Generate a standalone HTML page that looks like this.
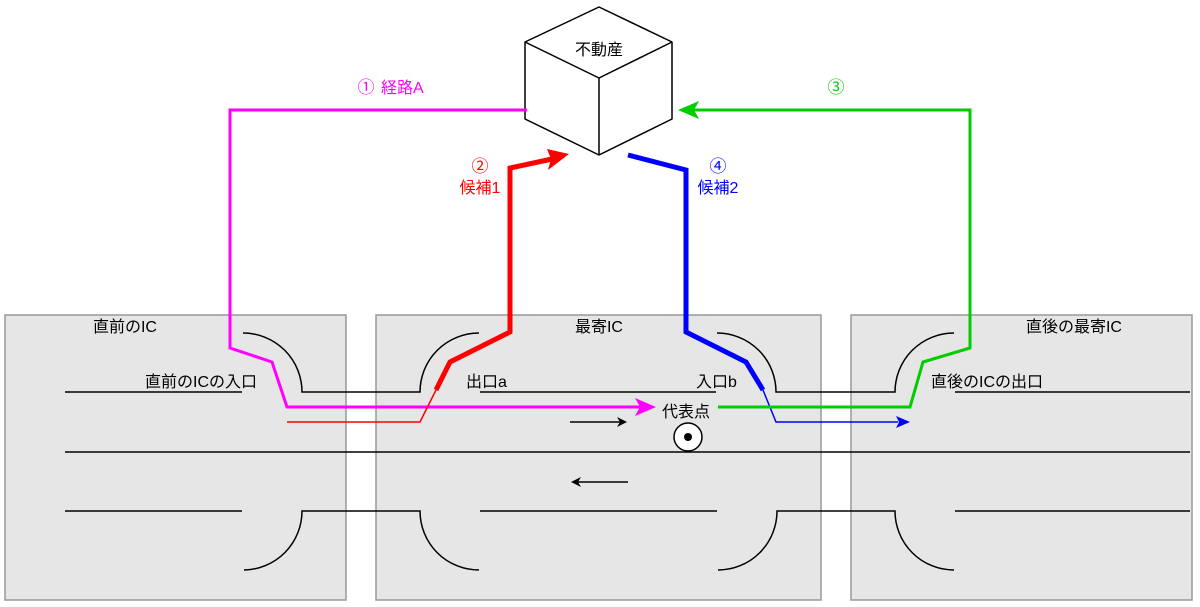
<!DOCTYPE html>
<html><head><meta charset="utf-8"><style>
html,body{margin:0;padding:0;background:#fff;}
svg{display:block;}
text{font-family:"Liberation Sans","Noto Sans CJK JP",sans-serif;font-size:16px;}
.c{font-family:"Noto Sans CJK JP",sans-serif;font-size:17px;}
</style></head><body>
<svg width="1200" height="607" viewBox="0 0 1200 607" xmlns="http://www.w3.org/2000/svg">
<defs>
<marker id="ak" markerWidth="10" markerHeight="10" refX="8" refY="5" orient="auto" markerUnits="userSpaceOnUse"><path d="M0,0 L10,5 L0,10 L3,5 z" fill="#000"/></marker>
</defs>
<g fill="#e6e6e6" stroke="#999" stroke-width="1.5">
<rect x="5" y="315" width="341" height="285"/>
<rect x="376" y="315" width="445" height="285"/>
<rect x="851" y="315" width="341" height="285"/>
</g>
<g fill="none" stroke="#000" stroke-width="1.5">
<path d="M65,392 H242"/>
<path d="M243,333 A59,59 0 0 1 302,392 H420 A59,59 0 0 1 479,333"/>
<path d="M480,392 H716"/>
<path d="M717,333 A59,59 0 0 1 776,392 H895 A59,59 0 0 1 954,333"/>
<path d="M955,392 H1190"/>
<path d="M65,452 H1190"/>
<path d="M65,511 H242"/>
<path d="M244,570 A59,59 0 0 0 302,511 H420 A59,59 0 0 0 479,570"/>
<path d="M480,511 H717"/>
<path d="M718,570 A59,59 0 0 0 777,511 H895 A59,59 0 0 0 954,570"/>
<path d="M955,511 H1190"/>
<path d="M570,422 H625" marker-end="url(#ak)"/>
<path d="M628,482 H573" marker-end="url(#ak)"/>
</g>
<circle cx="688" cy="437" r="14" fill="#fff" stroke="#000" stroke-width="1.5"/>
<circle cx="688" cy="437" r="4" fill="#000"/>
<g stroke="#000" stroke-width="1.5" fill="#fff" stroke-linejoin="round">
<path d="M599,7 L672,42 L672,119 L599,155 L525,119 L525,42 Z"/>
<path d="M525,42 L599,78 L672,42 M599,78 V155" fill="none"/>
</g>
<text x="599" y="55" text-anchor="middle">不動産</text>
<path d="M527,110 H230 V348 L272,362 L287,407 H640" fill="none" stroke="#ff00ff" stroke-width="3"/>
<path d="M656,407 L635,398 L640,407 L635,416 Z" fill="#ff00ff"/>
<path d="M287,422 H420 L436,390" fill="none" stroke="#ff0000" stroke-width="1.5"/>
<path d="M436,390 L450,362 L510,332 V168 L552,159" fill="none" stroke="#ff0000" stroke-width="5"/>
<path d="M569,154 L547,149 L551,159 L548,170 Z" fill="#ff0000"/>
<path d="M628,155 L686,170 V332 L746,362 L763,390" fill="none" stroke="#0000ff" stroke-width="5"/>
<path d="M763,390 L776,422 H898" fill="none" stroke="#0000ff" stroke-width="1.5"/>
<path d="M910,422 L896,416 L899,422 L896,428 Z" fill="#0000ff"/>
<path d="M718,407 H910 L923,362 L970,348 V110 H692" fill="none" stroke="#00cc00" stroke-width="3"/>
<path d="M678,110 L699,101 L694,110 L699,119 Z" fill="#00cc00"/>
<text x="366" y="93" class="c" text-anchor="middle" fill="#ff00ff">①</text>
<text x="381" y="93" fill="#ff00ff">経路A</text>
<text x="480" y="172" class="c" text-anchor="middle" fill="#ff0000">②</text>
<text x="480" y="193" text-anchor="middle" fill="#ff0000">候補1</text>
<text x="718" y="172" class="c" text-anchor="middle" fill="#0000ff">④</text>
<text x="718" y="193" text-anchor="middle" fill="#0000ff">候補2</text>
<text x="836" y="93" class="c" text-anchor="middle" fill="#00cc00">③</text>
<text x="125" y="332" text-anchor="middle">直前のIC</text>
<text x="599" y="332" text-anchor="middle">最寄IC</text>
<text x="1074" y="332" text-anchor="middle">直後の最寄IC</text>
<text x="145" y="387">直前のICの入口</text>
<text x="466" y="387">出口a</text>
<text x="696" y="387">入口b</text>
<text x="931" y="387">直後のICの出口</text>
<text x="662" y="417">代表点</text>
</svg>
</body></html>
